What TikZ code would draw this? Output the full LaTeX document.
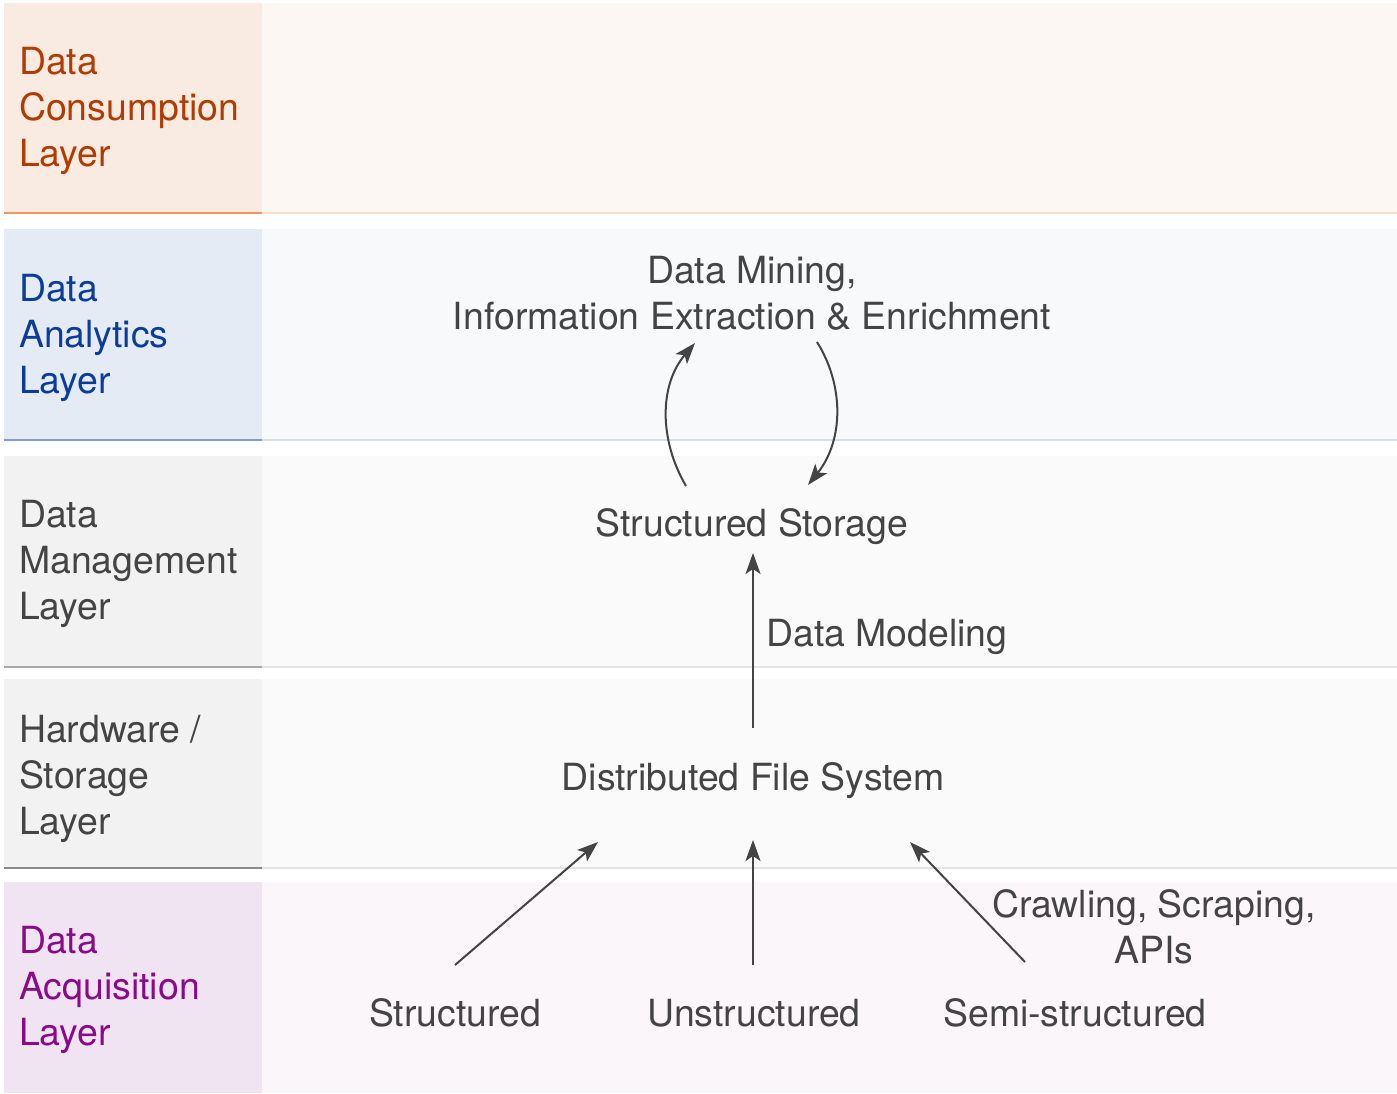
\documentclass[tikz,border=0pt]{standalone}
\usepackage{fontspec}
\setmainfont{TeX Gyre Heros}
\usetikzlibrary{arrows.meta}

\definecolor{txt}{HTML}{444444}
\definecolor{consL}{HTML}{FAEBE2}\definecolor{consR}{HTML}{FDF7F3}
\definecolor{consLine}{HTML}{F5955F}\definecolor{consLineR}{HTML}{FADCCB}
\definecolor{consTxt}{HTML}{B23C00}
\definecolor{anaL}{HTML}{E4EBF5}\definecolor{anaR}{HTML}{F7F9FB}
\definecolor{anaLine}{HTML}{7C9ED0}\definecolor{anaLineR}{HTML}{D5DFEC}
\definecolor{anaTxt}{HTML}{0B3C9A}
\definecolor{grayL}{HTML}{F2F2F2}\definecolor{grayR}{HTML}{FAFAFA}
\definecolor{mgmtLine}{HTML}{A8A8A8}\definecolor{hwLine}{HTML}{8A8A8A}
\definecolor{grayLineR}{HTML}{E4E4E4}
\definecolor{acqL}{HTML}{F0E4F2}\definecolor{acqR}{HTML}{FBF6FA}
\definecolor{acqTxt}{HTML}{8A0A8A}

\tikzset{
  layerlabel/.style={anchor=base west, align=left, inner sep=0pt,
    font=\fontsize{37.4}{46}\selectfont},
  flowtext/.style={inner sep=0pt, text=txt, align=center,
    font=\fontsize{37.4}{46}\selectfont},
  arr/.style={draw=txt, line width=2pt,
    -{Stealth[length=21pt,width=15pt,inset=5pt]}},
  sepline/.style={line width=2pt},
}

\begin{document}
\begin{tikzpicture}[x=1pt,y=-1pt]
\useasboundingbox (0,0) rectangle (1397,1093);

% layer bands: label column on the left, content area on the right
\fill[consL] (4,3) rectangle (262,213);
\fill[consR] (262,3) rectangle (1397,213);
\draw[sepline,consLine] (4,213) -- (262,213);
\draw[sepline,consLineR] (262,213) -- (1397,213);

\fill[anaL] (4,229) rectangle (262,440);
\fill[anaR] (262,229) rectangle (1397,440);
\draw[sepline,anaLine] (4,440) -- (262,440);
\draw[sepline,anaLineR] (262,440) -- (1397,440);

\fill[grayL] (4,456) rectangle (262,667);
\fill[grayR] (262,456) rectangle (1397,667);
\draw[sepline,mgmtLine] (4,667) -- (262,667);
\draw[sepline,grayLineR] (262,667) -- (1397,667);

\fill[grayL] (4,679) rectangle (262,868);
\fill[grayR] (262,679) rectangle (1397,868);
\draw[sepline,hwLine] (4,868) -- (262,868);
\draw[sepline,grayLineR] (262,868) -- (1397,868);

\fill[acqL] (4,882) rectangle (262,1093);
\fill[acqR] (262,882) rectangle (1397,1093);

% layer names (anchored at the baseline of the last line)
\node[layerlabel,text=consTxt] (lcons) at (19,166) {Data\\Consumption\\Layer};
\node[layerlabel,text=anaTxt] (lana) at (19,393) {Data\\Analytics\\Layer};
\node[layerlabel,text=txt] (lmgmt) at (19,619) {Data\\Management\\Layer};
\node[layerlabel,text=txt] (lhw) at (19,834) {Hardware /\\Storage\\Layer};
\node[layerlabel,text=acqTxt] (lacq) at (19,1045) {Data\\Acquisition\\Layer};

% processing stages
\node[flowtext] (mining) at (752,293) {Data Mining,\\Information Extraction \& Enrichment};
\node[flowtext] (storage) at (752,527) {Structured Storage};
\node[flowtext,anchor=west] (modeling) at (766,637) {Data Modeling};
\node[flowtext] (dfs) at (753,781) {Distributed File System};
\node[flowtext] (structured) at (455,1013) {Structured};
\node[flowtext] (unstructured) at (754,1013) {Unstructured};
\node[flowtext] (semi) at (1075,1013) {Semi-structured};
\node[flowtext] (crawl) at (1154,927) {Crawling, Scraping,\\APIs};

% arrow end points around the stage labels
\coordinate (s1) at (455,965);   \coordinate (d1) at (598,842);
\coordinate (s2) at (753,965);   \coordinate (d2) at (753,840);
\coordinate (s3) at (1025,962);  \coordinate (d3) at (910,842);
\coordinate (s4) at (753,728);   \coordinate (d4) at (753,553);
\coordinate (up0) at (686,486);  \coordinate (up1) at (695,343);
\coordinate (dn0) at (817,342);  \coordinate (dn1) at (808,485);

\draw[arr] (s1) -- (d1);
\draw[arr] (s2) -- (d2);
\draw[arr] (s3) -- (d3);
\draw[arr] (s4) -- (d4);
\draw[arr] (up0) .. controls (659,440) and (659,385) .. (up1);
\draw[arr] (dn0) .. controls (844,385) and (844,440) .. (dn1);
\end{tikzpicture}
\end{document}
